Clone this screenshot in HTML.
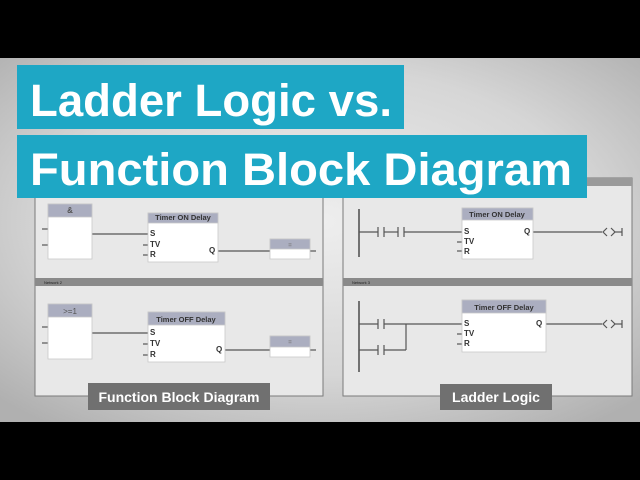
<!DOCTYPE html>
<html><head><meta charset="utf-8"><style>
html,body{margin:0;padding:0;background:#000;}
svg{display:block;}
text{font-family:"Liberation Sans",sans-serif;}
</style></head><body>
<svg width="640" height="480" viewBox="0 0 640 480">
<defs>
<radialGradient id="bg" cx="0.5" cy="0.45" r="0.7">
<stop offset="0" stop-color="#eeeeee"/><stop offset="0.6" stop-color="#d6d6d6"/><stop offset="1" stop-color="#b0b0b0"/>
</radialGradient>
</defs>
<rect x="0" y="0" width="640" height="480" fill="#000"/>
<rect x="0" y="58" width="640" height="364" fill="url(#bg)"/>

<rect x="35" y="185" width="288" height="211" fill="#e8e8e8" stroke="#7a7a7a" stroke-width="1"/>
<rect x="35" y="278" width="288" height="8" fill="#8a8a8a"/>
<text x="44" y="284" font-size="4" fill="#222">Network 2</text>
<rect x="343" y="178" width="289" height="218" fill="#e8e8e8" stroke="#7a7a7a" stroke-width="1"/>
<rect x="343" y="178" width="289" height="8" fill="#9a9a9a"/>
<rect x="343" y="278" width="289" height="8" fill="#8a8a8a"/>
<text x="352" y="284" font-size="4" fill="#222">Network 3</text>

<g stroke="#555" stroke-width="1.2" fill="none">
<line x1="42" y1="229" x2="48" y2="229"/><line x1="42" y1="245" x2="48" y2="245"/>
<line x1="92" y1="234" x2="148" y2="234"/>
<line x1="143" y1="245" x2="148" y2="245"/><line x1="143" y1="255" x2="148" y2="255"/>
<line x1="218" y1="251" x2="270" y2="251"/><line x1="310" y1="251" x2="316" y2="251"/>
<line x1="42" y1="327" x2="48" y2="327"/><line x1="42" y1="343" x2="48" y2="343"/>
<line x1="92" y1="333" x2="148" y2="333"/>
<line x1="143" y1="344" x2="148" y2="344"/><line x1="143" y1="355" x2="148" y2="355"/>
<line x1="225" y1="350" x2="270" y2="350"/><line x1="310" y1="350" x2="316" y2="350"/>
<line x1="359" y1="209" x2="359" y2="257" stroke-width="1.6"/>
<line x1="359" y1="232" x2="378" y2="232"/><line x1="384" y1="232" x2="398" y2="232"/><line x1="404" y1="232" x2="462" y2="232"/>
<line x1="378" y1="227" x2="378" y2="237"/><line x1="384" y1="227" x2="384" y2="237"/>
<line x1="398" y1="227" x2="398" y2="237"/><line x1="404" y1="227" x2="404" y2="237"/>
<line x1="457" y1="242" x2="462" y2="242"/><line x1="457" y1="251" x2="462" y2="251"/>
<line x1="533" y1="232" x2="602" y2="232"/>
<path d="M607 228 L603 232 L607 236 M611 228 L615 232 L611 236"/>
<line x1="615" y1="232" x2="622" y2="232"/><line x1="622" y1="228" x2="622" y2="236"/>
<line x1="359" y1="301" x2="359" y2="372" stroke-width="1.6"/>
<line x1="359" y1="324" x2="378" y2="324"/><line x1="384" y1="324" x2="462" y2="324"/>
<line x1="378" y1="319" x2="378" y2="329"/><line x1="384" y1="319" x2="384" y2="329"/>
<line x1="359" y1="350" x2="378" y2="350"/><line x1="384" y1="350" x2="406" y2="350"/><line x1="406" y1="350" x2="406" y2="324"/>
<line x1="378" y1="345" x2="378" y2="355"/><line x1="384" y1="345" x2="384" y2="355"/>
<line x1="457" y1="334" x2="462" y2="334"/><line x1="457" y1="344" x2="462" y2="344"/>
<line x1="546" y1="324" x2="602" y2="324"/>
<path d="M607 320 L603 324 L607 328 M611 320 L615 324 L611 328"/>
<line x1="615" y1="324" x2="622" y2="324"/><line x1="622" y1="320" x2="622" y2="328"/>
</g>

<g stroke="#c8c8c8" stroke-width="0.8">
<rect x="48" y="204" width="44" height="55" fill="#fff"/><rect x="48" y="204" width="44" height="13" fill="#abaec0"/>
<rect x="148" y="213" width="70" height="49" fill="#fff"/><rect x="148" y="213" width="70" height="10" fill="#abaec0"/>
<rect x="270" y="239" width="40" height="20" fill="#fff"/><rect x="270" y="239" width="40" height="10" fill="#abaec0"/>
<rect x="48" y="304" width="44" height="55" fill="#fff"/><rect x="48" y="304" width="44" height="13" fill="#abaec0"/>
<rect x="148" y="312" width="77" height="50" fill="#fff"/><rect x="148" y="312" width="77" height="13" fill="#abaec0"/>
<rect x="270" y="336" width="40" height="21" fill="#fff"/><rect x="270" y="336" width="40" height="11" fill="#abaec0"/>
<rect x="462" y="208" width="71" height="51" fill="#fff"/><rect x="462" y="208" width="71" height="12" fill="#abaec0"/>
<rect x="462" y="300" width="84" height="52" fill="#fff"/><rect x="462" y="300" width="84" height="13" fill="#abaec0"/>
</g>
<g font-size="8" font-weight="bold" fill="#333">
<text x="70" y="213" text-anchor="middle" fill="#555">&amp;</text>
<text x="183" y="220" text-anchor="middle" font-size="7.5">Timer ON Delay</text>
<text x="290" y="247" text-anchor="middle" fill="#777" font-size="6">=</text>
<text x="150" y="236">S</text><text x="150" y="247">TV</text><text x="150" y="257">R</text><text x="209" y="253">Q</text>
<text x="70" y="314" text-anchor="middle" fill="#555" font-weight="normal">&gt;=1</text>
<text x="186" y="322" text-anchor="middle" font-size="7.5">Timer OFF Delay</text>
<text x="290" y="344" text-anchor="middle" fill="#777" font-size="6">=</text>
<text x="150" y="335">S</text><text x="150" y="346">TV</text><text x="150" y="357">R</text><text x="216" y="352">Q</text>
<text x="497" y="217" text-anchor="middle" font-size="7.5">Timer ON Delay</text>
<text x="464" y="234">S</text><text x="464" y="244">TV</text><text x="464" y="254">R</text><text x="524" y="234">Q</text>
<text x="504" y="310" text-anchor="middle" font-size="7.5">Timer OFF Delay</text>
<text x="464" y="326">S</text><text x="464" y="336">TV</text><text x="464" y="346">R</text><text x="536" y="326">Q</text>
</g>

<rect x="88" y="383" width="182" height="27" fill="#707070"/>
<text x="179" y="402" text-anchor="middle" font-size="14" font-weight="bold" fill="#fff">Function Block Diagram</text>
<rect x="440" y="384" width="112" height="26" fill="#707070"/>
<text x="496" y="402" text-anchor="middle" font-size="14" font-weight="bold" fill="#fff">Ladder Logic</text>

<rect x="17" y="65" width="387" height="64" fill="#1ea7c5"/>
<text x="30" y="116" font-size="45" font-weight="bold" fill="#fff" textLength="362" lengthAdjust="spacingAndGlyphs">Ladder Logic vs.</text>
<rect x="17" y="135" width="570" height="63" fill="#1ea7c5"/>
<text x="30" y="185" font-size="45" font-weight="bold" fill="#fff" textLength="542" lengthAdjust="spacingAndGlyphs">Function Block Diagram</text>
</svg>
</body></html>
